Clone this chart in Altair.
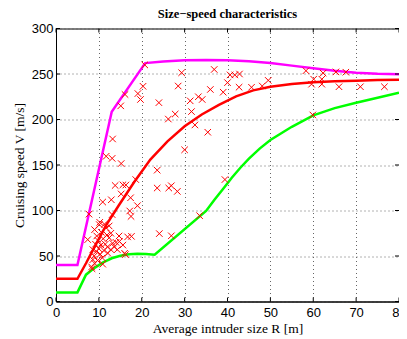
import altair as alt
import pandas as pd

title_text = "Size\u2212speed characteristics"
x_title = "Average intruder size R [m]"
y_title = "Cruising speed V [m/s]"

x_ticks = [0, 10, 20, 30, 40, 50, 60, 70, 80]
y_ticks = [0, 50, 100, 150, 200, 250, 300]

upper_x = [0, 5, 13, 20.8, 25, 30, 35, 40, 45, 50, 55, 60, 65, 70, 75, 80]
upper_y = [40, 40, 208.5, 262, 263.8, 265, 265.4, 265.1, 264, 262, 259.2, 256.2, 253.5, 251.5, 250.3, 249.8]

mean_x = [0, 5, 7, 9, 11.7, 14.7, 18.2, 22, 26, 30, 34, 38, 42, 46, 50, 55, 60, 65, 70, 75, 80]
mean_y = [25, 25, 42, 60, 84, 106, 131, 156, 176, 192.5, 205.5, 216, 225.5, 232, 236, 239, 241, 242, 242.7, 243.3, 243.8]

lower_x = [0, 5, 7, 9, 11, 13, 15, 17, 19, 21, 23, 35, 37, 39, 41, 43, 45, 47.5, 50, 55, 60, 65, 70, 75, 80]
lower_y = [10, 10, 29.5, 37, 43, 47.5, 50.3, 51.8, 52.4, 52.3, 51.5, 99.5, 112, 124, 136, 147, 157, 168, 177.5, 192, 204.5, 212.5, 218.5, 224, 229.5]

obs_x = [20.7, 15.1, 16.1, 19.1, 19.7, 20.3, 24.0, 28.5, 29.3, 26.2, 27.8, 31.3, 31.6, 33.2, 34.1,
         36.0, 36.9, 39.0, 40.0, 40.6, 41.7, 42.8, 42.7, 45.6, 48.1, 49.5, 58.3, 60.1, 59.6, 62.3,
         62.0, 62.0, 65.3, 67.6, 66.0, 71.0, 76.6, 59.9, 32.4, 35.4, 30.0, 23.6, 39.4, 33.5, 24.1,
         26.9, 13.2, 11.7, 13.1, 15.2, 13.8, 15.6, 16.3, 18.6, 23.6, 26.3, 26.9, 28.3, 15.2, 17.4,
         19.0, 17.2, 17.5, 17.6, 16.7, 16.0, 16.2, 10.9, 12.9, 7.7, 13.1,
         8.4, 8.3, 8.6, 8.6, 8.9, 9.0, 9.2, 9.4, 9.5, 9.7, 9.8, 10.0, 10.1, 10.2, 10.3, 10.5, 10.6,
         10.8, 11.0, 11.2, 11.5, 11.7, 11.9, 12.1, 12.4, 12.4, 12.8, 13.2, 13.6, 14.0, 14.3, 14.7,
         15.6, 12.0, 9.0, 10.9, 7.4, 11.3, 12.8, 14.8]
obs_y = [260, 215, 227.5, 228.5, 222, 236.5, 218.5, 236.8, 251.4, 200.5, 206, 220.5, 208.7, 225, 222,
         233, 255, 230, 240.5, 249, 249, 250, 235.5, 235.4, 236.8, 243, 253.6, 244.3, 238.8, 251,
         244.3, 238.8, 252.3, 252, 236, 236, 236, 205, 194, 186, 166.7, 144.3, 134, 94.3, 74.6,
         72.2, 178.6, 159.6, 157.3, 151.6, 127.5, 128.2, 128, 134, 124.7, 124.7, 127.2, 121, 118.2, 114,
         105.3, 99.5, 93.5, 71.6, 71, 53, 51.5, 109.3, 111.8, 96, 95.5,
         36, 38, 46, 57, 50, 79, 63, 55, 72, 45, 67, 58, 84.5, 87, 52, 62, 76,
         48, 69, 56, 63, 81, 73, 53, 83, 70, 75, 64, 60, 65, 57, 72,
         62, 60, 42, 41, 68, 85, 57, 66]

W, H = 343, 273

lines_df = pd.concat([
    pd.DataFrame({"x": upper_x, "y": upper_y, "series": "upper", "o": range(len(upper_x))}),
    pd.DataFrame({"x": mean_x, "y": mean_y, "series": "mean", "o": range(len(mean_x))}),
    pd.DataFrame({"x": lower_x, "y": lower_y, "series": "lower", "o": range(len(lower_x))}),
])
obs_df = pd.DataFrame({"x": obs_x, "y": obs_y})
xt_df = pd.DataFrame({"x": x_ticks})
yt_df = pd.DataFrame({"y": y_ticks})
title_df = pd.DataFrame({"t": [title_text]})

xscale = alt.Scale(domain=[0, 80], nice=False, zero=False)
yscale = alt.Scale(domain=[0, 300], nice=False, zero=False)

xaxis = alt.Axis(values=x_ticks, title=x_title, grid=True,
                 labelFlush=False, labelOverlap=False, tickSize=0, labelPadding=5,
                 titleX=W / 2, titleY=30.5, titleBaseline="alphabetic", titleAlign="center")
yaxis = alt.Axis(values=y_ticks, title=y_title, grid=True,
                 labelFlush=False, labelOverlap=False, tickSize=0, labelPadding=3,
                 titleX=-33, titleY=H / 2, titleAngle=270, titleBaseline="alphabetic",
                 titleAlign="center")

X = alt.X("x:Q", scale=xscale, axis=xaxis)
Y = alt.Y("y:Q", scale=yscale, axis=yaxis)

lines = alt.Chart(lines_df).mark_line(strokeWidth=2.5, clip=True).encode(
    x=X, y=Y,
    color=alt.Color("series:N", scale=alt.Scale(domain=["upper", "mean", "lower"],
                                                range=["#ff00ff", "#ff0000", "#00ff00"]),
                    legend=None),
    detail="series:N",
    order="o:Q",
)

points = alt.Chart(obs_df).mark_point(
    shape="M-1,-1L1,1M-1,1L1,-1", filled=False, color="#ff0000", size=42, strokeWidth=1, opacity=1
).encode(x=X, y=Y)

tick_len = 4
xt_bottom = alt.Chart(xt_df).mark_rule(color="black", strokeWidth=1).encode(
    x=X, y=alt.value(H), y2=alt.value(H - tick_len))
xt_top = alt.Chart(xt_df).mark_rule(color="black", strokeWidth=1).encode(
    x=X, y=alt.value(0), y2=alt.value(tick_len))
yt_left = alt.Chart(yt_df).mark_rule(color="black", strokeWidth=1).encode(
    y=Y, x=alt.value(0), x2=alt.value(tick_len))
yt_right = alt.Chart(yt_df).mark_rule(color="black", strokeWidth=1).encode(
    y=Y, x=alt.value(W), x2=alt.value(W - tick_len))

title_mark = alt.Chart(title_df).mark_text(
    font="Liberation Serif", fontSize=12.5, fontWeight="bold", color="black",
    align="center", baseline="alphabetic"
).encode(text="t:N", x=alt.value(W / 2), y=alt.value(-11))

chart = alt.layer(lines, points, xt_bottom, xt_top, yt_left, yt_right, title_mark).properties(
    width=W, height=H,
    background="white",
    autosize=alt.AutoSizeParams(type="none"),
    padding={"left": 48, "top": 20.5, "right": 0, "bottom": 36},
).configure_view(stroke="black", strokeWidth=1).configure_axis(
    domainColor="black", domainWidth=1,
    labelFont="Liberation Sans", labelFontSize=13, labelColor="black",
    titleFont="Liberation Serif", titleFontSize=13.5, titleFontWeight="normal", titleColor="black",
    gridColor="#555555", gridDash=[1, 3], gridWidth=1, gridOpacity=0.9,
)

chart.save("out.html", embed_options={"renderer": "svg", "actions": False})
